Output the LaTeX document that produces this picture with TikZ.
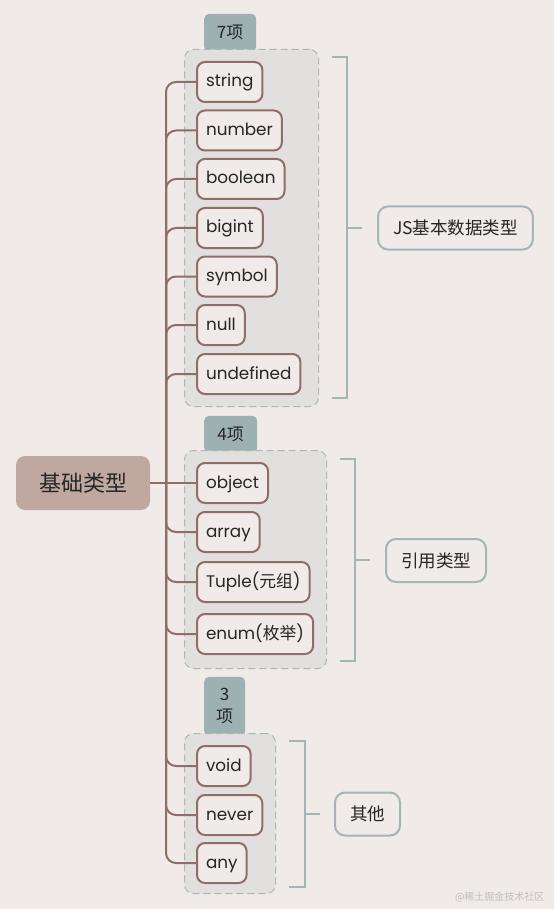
\documentclass[tikz,border=0pt]{standalone}
\usepackage{fontspec}
\setmainfont{Poppins}
\newfontfamily\cjk{Noto Sans CJK SC}
\usetikzlibrary{positioning}
\definecolor{bg}{HTML}{F0EAE8}
\definecolor{br}{HTML}{8E6E66}
\definecolor{rootf}{HTML}{BEA89F}
\definecolor{tl}{HTML}{A3B5B7}
\definecolor{tagf}{HTML}{9DB0B2}
\definecolor{grpf}{HTML}{E2E0DF}
\definecolor{grpd}{HTML}{B0B5B5}
\tikzset{
  leaf/.style={
    rectangle, rounded corners=8pt, draw=br, line width=2pt, fill=bg,
    text=black!85, font=\fontsize{16.8}{19}\selectfont,
    text height=13pt, text depth=3pt,
    minimum height=40pt, inner xsep=9pt, anchor=west
  },
  rootbox/.style={
    rectangle, rounded corners=9pt, draw=none, fill=rootf,
    text=black!85, font=\cjk\fontsize{22}{24}\selectfont,
    minimum width=134pt, minimum height=54pt
  },
  grp/.style={
    rectangle, rounded corners=9pt, draw=grpd, dash pattern=on 7pt off 4pt,
    line width=1pt, fill=grpf, anchor=north west
  },
  tagbox/.style={
    rectangle, rounded corners=5pt, draw=none, fill=tagf,
    text=black!85, font=\cjk\fontsize{17}{22}\selectfont,
    align=center, inner sep=0pt, anchor=south west
  },
  lbl/.style={
    rectangle, rounded corners=10pt, draw=tl, line width=2pt, fill=bg,
    text=black!85, font=\cjk\fontsize{17.5}{19}\selectfont,
    minimum height=43pt, inner xsep=15pt, anchor=west
  },
  brk/.style={draw=tl, line width=2pt},
  link/.style={draw=br, line width=2pt, rounded corners=10pt}
}
\begin{document}
\begin{tikzpicture}[x=1pt, y=-1pt]
\fill[bg] (0,0) rectangle (554,909);
\useasboundingbox (0,0) rectangle (554,909);

% groups
\node[tagbox, minimum width=52pt, minimum height=38pt] (tag1) at (204,52) {7项};
\node[grp, minimum width=134pt, minimum height=357pt] (grp1) at (184,49) {};
\node[tagbox, minimum width=53pt, minimum height=37pt] (tag2) at (204,453) {4项};
\node[grp, minimum width=142pt, minimum height=218pt] (grp2) at (184,450) {};
\node[tagbox, minimum width=41pt, minimum height=59pt] (tag3) at (204,736) {3\\项};
\node[grp, minimum width=91pt, minimum height=160pt] (grp3) at (184,733) {};

% root
\node[rootbox] (root) at (83,483) {基础类型};
\coordinate (j) at (166,483);

% leaves
\node[leaf] (string) at (196,82) {string};
\node[leaf] (number) at (196,130.5) {number};
\node[leaf] (boolean) at (196,179) {boolean};
\node[leaf] (bigint) at (196,228) {bigint};
\node[leaf] (symbol) at (196,276.5) {symbol};
\node[leaf] (null) at (196,325) {null};
\node[leaf] (undefined) at (196,374) {undefined};

\node[leaf] (object) at (196,483) {object};
\node[leaf] (array) at (196,532) {array};
\node[leaf] (tuple) at (196,582) {Tuple({\cjk 元组})};
\node[leaf] (enum) at (196,634) {enum({\cjk 枚举})};

\node[leaf] (void) at (196,766) {void};
\node[leaf] (never) at (196,815) {never};
\node[leaf] (any) at (196,863) {any};

% links
\draw[link] (root) -- (j);
\draw[link] (j) |- (string.west);
\draw[link] (j) |- (number.west);
\draw[link] (j) |- (boolean.west);
\draw[link] (j) |- (bigint.west);
\draw[link] (j) |- (symbol.west);
\draw[link] (j) |- (null.west);
\draw[link] (j) |- (undefined.west);
\draw[link] (j) -- (object.west);
\draw[link] (j) |- (array.west);
\draw[link] (j) |- (tuple.west);
\draw[link] (j) |- (enum.west);
\draw[link] (j) |- (void.west);
\draw[link] (j) |- (never.west);
\draw[link] (j) |- (any.west);

% brackets
\draw[brk] (332,57) -- (347,57) -- (347,398) -- (332,398);
\draw[brk] (347,228) -- (362,228);
\draw[brk] (340,459) -- (355,459) -- (355,661) -- (340,661);
\draw[brk] (355,560) -- (370,560);
\draw[brk] (289,741) -- (305,741) -- (305,887) -- (289,887);
\draw[brk] (305,814) -- (320,814);

% labels
\node[lbl] (jsbase) at (377,228) {JS基本数据类型};
\node[lbl] (reftype) at (385,560.5) {引用类型};
\node[lbl] (other) at (334,814) {其他};

\node[text=black!25, font=\cjk\fontsize{10}{12}\selectfont, anchor=east] (mark) at (548,897) {@稀土掘金技术社区};
\end{tikzpicture}
\end{document}
